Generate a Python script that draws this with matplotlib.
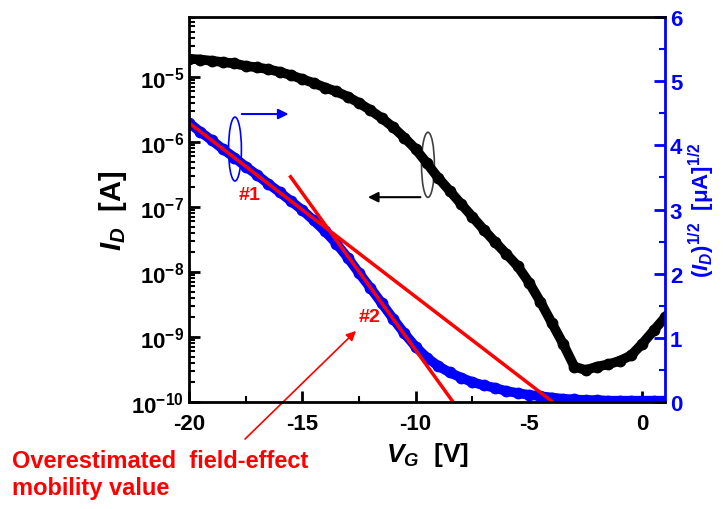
import numpy as np
import matplotlib.pyplot as plt
from matplotlib.patches import Ellipse
from matplotlib.ticker import FixedLocator, FuncFormatter, MultipleLocator, LogLocator, NullFormatter

plt.rcParams['font.family'] = ['Liberation Sans', 'DejaVu Sans']
plt.rcParams['font.weight'] = 'bold'
plt.rcParams['axes.unicode_minus'] = False
plt.rcParams['mathtext.fontset'] = 'custom'
plt.rcParams['mathtext.rm'] = 'Liberation Sans:bold'
plt.rcParams['mathtext.bf'] = 'Liberation Sans:bold'
plt.rcParams['mathtext.it'] = 'Liberation Sans:italic:bold'

# gate voltage sweep (V)
vg = [-20, -19.5, -19, -18.5, -18, -17.5, -17, -16.5, -16, -15.5, -15, -14.5, -14,
      -13.5, -13, -12.5, -12, -11.5, -11, -10.5, -10, -9.5, -9, -8.5, -8, -7.5, -7,
      -6.5, -6, -5.5, -5, -4.5, -4, -3.5, -3, -2.5, -2, -1.5, -1, -0.5, 0, 0.5, 1]

# drain current I_D (A), log scale
id_a = [1.91e-5, 1.86e-5, 1.78e-5, 1.70e-5, 1.62e-5, 1.48e-5, 1.41e-5, 1.32e-5, 1.20e-5,
        1.07e-5, 9.3e-6, 8.1e-6, 6.9e-6, 6.0e-6, 5.0e-6, 4.0e-6, 3.1e-6, 2.34e-6, 1.70e-6,
        1.17e-6, 7.8e-7, 4.7e-7, 2.8e-7, 1.78e-7, 1.12e-7, 7.1e-8, 4.5e-8, 2.9e-8, 1.9e-8,
        1.23e-8, 6.9e-9, 3.5e-9, 1.66e-9, 7.9e-10, 3.5e-10, 3.1e-10, 3.5e-10, 3.8e-10,
        4.3e-10, 5.2e-10, 7.9e-10, 1.26e-9, 2.0e-9]

# sqrt(I_D) (uA^1/2)
sqrt_id = [4.35, 4.21, 4.08, 3.94, 3.81, 3.67, 3.54, 3.40, 3.27, 3.13, 2.99, 2.83, 2.66,
           2.47, 2.25, 2.01, 1.78, 1.54, 1.30, 1.07, 0.86, 0.69, 0.56, 0.46, 0.38, 0.31,
           0.26, 0.22, 0.17, 0.14, 0.11, 0.09, 0.07, 0.05, 0.04, 0.03, 0.03, 0.02, 0.02,
           0.02, 0.02, 0.02, 0.02]

# linear fits on the sqrt(I_D) curve
fit1_v = [-20, -3.95]
fit1_y = [4.35, 0]
fit2_v = [-15.52, -8.35]
fit2_y = [3.51, 0]

blue = '#0000ff'
red = '#ff0000'

fig = plt.figure(figsize=(7.23, 5.10), dpi=100)
ax = fig.add_axes([0.2614, 0.2098, 0.6584, 0.7549])
ax2 = ax.twinx()

ax.semilogy(vg, id_a, '-', color='black', lw=7)
ax.semilogy(vg, id_a, 'o', color='black', ms=7.5)

ax2.plot(vg, sqrt_id, '-', color=blue, lw=7)
ax2.plot(vg, sqrt_id, 'o', color=blue, ms=7.5)
ax2.plot(fit1_v, fit1_y, color=red, lw=2.5)
ax2.plot(fit2_v, fit2_y, color=red, lw=2.5)

ax.set_xlim(-20, 1)
ax.set_ylim(1e-10, 8.4e-5)
ax2.set_ylim(0, 6)

ax.xaxis.set_major_locator(FixedLocator([-20, -15, -10, -5, 0]))
ax.xaxis.set_minor_locator(MultipleLocator(2.5))
ax.yaxis.set_major_locator(FixedLocator([1e-10, 1e-9, 1e-8, 1e-7, 1e-6, 1e-5]))
ax.yaxis.set_minor_locator(LogLocator(base=10, subs=np.arange(2, 10)))
ax.yaxis.set_minor_formatter(NullFormatter())
ax.yaxis.set_major_formatter(FuncFormatter(lambda v, p: r'$\mathbf{10^{%d}}$' % round(np.log10(v))))
ax2.yaxis.set_major_locator(MultipleLocator(1))
ax2.yaxis.set_minor_locator(MultipleLocator(0.5))

ax.tick_params(axis='both', which='major', direction='in', length=8, width=2, labelsize=16)
ax.tick_params(axis='both', which='minor', direction='in', length=4, width=1.5)
ax.tick_params(axis='x', pad=8)
ax2.tick_params(axis='y', which='major', direction='in', length=8, width=2, labelsize=16,
                colors=blue)
ax2.tick_params(axis='y', which='minor', direction='in', length=4, width=1.5, colors=blue)

for s in ['left', 'bottom', 'top']:
    ax2.spines[s].set_linewidth(2)
ax2.spines['right'].set_linewidth(2)
ax2.spines['right'].set_color(blue)

ax.set_xlabel(r'$V_G$  [V]', fontsize=19, fontweight='bold', labelpad=4)
ax.set_ylabel(r'$I_D$  [A]', fontsize=21, fontweight='bold', labelpad=2)
ax2.set_ylabel(r'$(I_D)^{1/2}$  [μA]$^{1/2}$', fontsize=16, fontweight='bold',
               color=blue, labelpad=3)

# ellipses and arrows marking the axis of each curve
ax.add_patch(Ellipse((0.0966, 0.657), 0.027, 0.166, transform=ax.transAxes,
                     fill=False, ec=blue, lw=1.2))
ax.annotate('', xy=(0.215, 0.748), xytext=(0.105, 0.748), xycoords='axes fraction',
            arrowprops=dict(arrowstyle='-|>', color=blue, lw=1.5, mutation_scale=15))
ax.add_patch(Ellipse((0.502, 0.616), 0.027, 0.169, transform=ax.transAxes,
                     fill=False, ec='#404040', lw=1.2))
ax.annotate('', xy=(0.37, 0.532), xytext=(0.492, 0.532), xycoords='axes fraction',
            arrowprops=dict(arrowstyle='-|>', color='black', lw=1.5, mutation_scale=15))

ax.text(0.128, 0.54, '#1', transform=ax.transAxes, color=red, fontsize=14,
        fontweight='bold', ha='center', va='center')
ax.text(0.38, 0.221, '#2', transform=ax.transAxes, color=red, fontsize=14,
        fontweight='bold', ha='center', va='center')

ax.annotate('', xy=(358, 180), xytext=(243, 68), xycoords='figure pixels',
            textcoords='figure pixels', annotation_clip=False,
            arrowprops=dict(arrowstyle='-|>', color=red, lw=1.2, mutation_scale=14))
fig.text(12 / 723, 1 - 450 / 510, 'Overestimated  field-effect\nmobility value',
         color=red, fontsize=17, fontweight='bold', ha='left', va='top', linespacing=1.2)

fig.savefig('out.png', dpi=100)
